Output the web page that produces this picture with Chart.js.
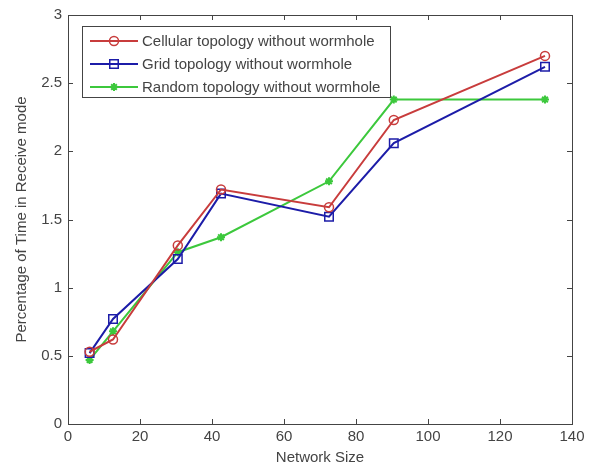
<!DOCTYPE html>
<html>
<head>
<meta charset="utf-8">
<script src="https://cdn.jsdelivr.net/npm/chart.js@4.4.1/dist/chart.umd.min.js"></script>
<style>
  html, body { margin: 0; padding: 0; background: #fff; }
  #wrap { width: 595px; height: 468px; }
</style>
</head>
<body>
<div id="wrap"><canvas id="c" width="595" height="468"></canvas></div>
<script>
// data
const networkSize = [6, 12.5, 30.5, 42.5, 72.5, 90.5, 132.5];
const cellular = [0.53, 0.62, 1.31, 1.72, 1.59, 2.23, 2.70];
const grid = [0.52, 0.77, 1.21, 1.69, 1.52, 2.06, 2.62];
const random = [0.47, 0.68, 1.26, 1.37, 1.78, 2.38, 2.38];

const seriesNames = [
    'Cellular topology without wormhole',
    'Grid topology without wormhole',
    'Random topology without wormhole'
];
const xTickLabels = ['0', '20', '40', '60', '80', '100', '120', '140'];
const yTickLabels = ['0', '0.5', '1', '1.5', '2', '2.5', '3'];

const FONT = '"Liberation Sans", Arial, sans-serif';
const TEXT = '#444444';
const AXIS = '#444444';

function pts(ys) {
    return ys.map((y, i) => ({ x: networkSize[i], y: y }));
}

// MATLAB-ish box with inward ticks, plus the legend inside the axes
const boxPlugin = {
    id: 'box',
    afterDraw(chart) {
        const ctx = chart.ctx;
        const a = chart.chartArea;
        const xs = chart.scales.x, ys = chart.scales.y;
        ctx.save();
        ctx.strokeStyle = AXIS;
        ctx.lineWidth = 1;
        ctx.strokeRect(a.left + 0.5, a.top + 0.5, a.right - a.left, a.bottom - a.top);
        ctx.beginPath();
        xs.ticks.forEach((t, i) => {
            const px = Math.round(xs.getPixelForTick(i)) + 0.5;
            ctx.moveTo(px, a.bottom); ctx.lineTo(px, a.bottom - 5);
            ctx.moveTo(px, a.top); ctx.lineTo(px, a.top + 5);
        });
        ys.ticks.forEach((t, i) => {
            const py = Math.round(ys.getPixelForTick(i)) + 0.5;
            ctx.moveTo(a.left, py); ctx.lineTo(a.left + 5, py);
            ctx.moveTo(a.right, py); ctx.lineTo(a.right - 5, py);
        });
        ctx.stroke();

        // legend box
        const lx = 82, ly = 26, lw = 308, lh = 71;
        ctx.fillStyle = '#fff';
        ctx.fillRect(lx, ly, lw, lh);
        ctx.strokeStyle = AXIS;
        ctx.strokeRect(lx + 0.5, ly + 0.5, lw, lh);
        ctx.font = '15px ' + FONT;
        ctx.textBaseline = 'middle';
        chart.data.datasets.forEach((ds, i) => {
            const yy = ly + 15 + i * 23;
            ctx.strokeStyle = ds.borderColor;
            ctx.lineWidth = 2;
            ctx.beginPath();
            ctx.moveTo(lx + 8, yy); ctx.lineTo(lx + 56, yy);
            ctx.stroke();
            ctx.save();
            ctx.strokeStyle = ds.pointBorderColor;
            ctx.fillStyle = ds.pointBackgroundColor;
            ctx.lineWidth = ds.pointBorderWidth;
            Chart.helpers.drawPoint(ctx, {
                pointStyle: ds.pointStyle,
                radius: ds.pointRadius,
                borderWidth: ds.pointBorderWidth,
                rotation: 0
            }, lx + 32, yy);
            ctx.restore();
            ctx.fillStyle = TEXT;
            ctx.fillText(ds.label, lx + 60, yy + 1);
        });
        ctx.restore();
    }
};

new Chart(document.getElementById('c'), {
    type: 'line',
    data: {
        datasets: [{
            label: seriesNames[0],
            data: pts(cellular),
            borderColor: '#c83c3c',
            borderWidth: 2,
            pointStyle: 'circle',
            pointRadius: 4.5,
            pointBorderWidth: 1.5,
            pointBorderColor: '#c83c3c',
            pointBackgroundColor: 'rgba(255,255,255,0)',
            tension: 0
        }, {
            label: seriesNames[1],
            data: pts(grid),
            borderColor: '#1c1ca8',
            borderWidth: 2,
            pointStyle: 'rect',
            pointRadius: 6,
            pointBorderWidth: 1.5,
            pointBorderColor: '#1c1ca8',
            pointBackgroundColor: 'rgba(255,255,255,0)',
            tension: 0
        }, {
            label: seriesNames[2],
            data: pts(random),
            borderColor: '#3cc83c',
            borderWidth: 2,
            pointStyle: 'star',
            pointRadius: 4,
            pointBorderWidth: 2,
            pointBorderColor: '#3cc83c',
            pointBackgroundColor: '#3cc83c',
            tension: 0
        }]
    },
    options: {
        responsive: false,
        animation: false,
        layout: { padding: { left: 0, right: 23, top: 15, bottom: 0 } },
        plugins: {
            legend: { display: false },
            tooltip: { enabled: false }
        },
        scales: {
            x: {
                type: 'linear',
                min: 0,
                max: 140,
                grid: { display: false, drawTicks: false },
                border: { display: false },
                ticks: {
                    stepSize: 20,
                    padding: 4,
                    color: TEXT,
                    font: { family: FONT, size: 15 },
                    maxRotation: 0,
                    callback: (v, i) => xTickLabels[i]
                },
                title: {
                    display: true,
                    text: 'Network Size',
                    color: TEXT,
                    font: { family: FONT, size: 15 },
                    padding: { top: 0, bottom: 1 }
                },
                afterFit: s => { s.height = 44; }
            },
            y: {
                min: 0,
                max: 3,
                grid: { display: false, drawTicks: false },
                border: { display: false },
                ticks: {
                    stepSize: 0.5,
                    padding: 6,
                    color: TEXT,
                    font: { family: FONT, size: 15 },
                    callback: (v, i) => yTickLabels[i]
                },
                title: {
                    display: true,
                    text: 'Percentage of Time in Receive mode',
                    color: TEXT,
                    font: { family: FONT, size: 15 },
                    padding: { top: 13, bottom: 0 }
                },
                afterFit: s => { s.width = 68; }
            }
        }
    },
    plugins: [boxPlugin]
});
</script>
</body>
</html>
